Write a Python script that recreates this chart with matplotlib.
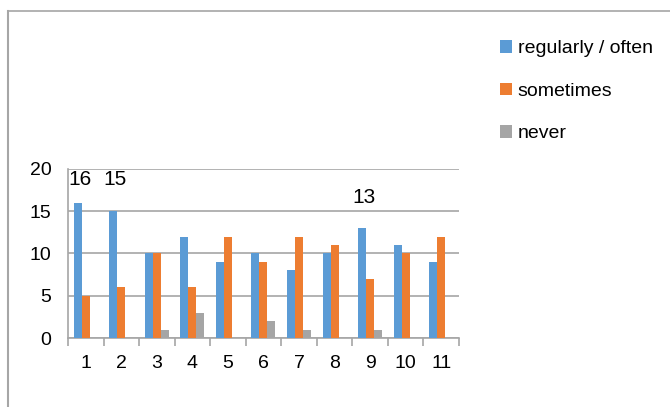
import numpy as np
import matplotlib.pyplot as plt
from matplotlib.lines import Line2D

plt.rcParams['font.family'] = ['Liberation Sans Narrow', 'Liberation Sans', 'DejaVu Sans']

categories = ["1", "2", "3", "4", "5", "6", "7", "8", "9", "10", "11"]
regular = [16, 15, 10, 12, 9, 10, 8, 10, 13, 11, 9]
sometimes = [5, 6, 10, 6, 12, 9, 12, 11, 7, 10, 12]
never = [0, 0, 1, 3, 0, 2, 1, 0, 1, 0, 0]
series_names = ["regularly / often", "sometimes", "never"]
colors = ["#5B9BD5", "#ED7D31", "#A5A5A5"]

# labels shown in the original, (category index, value, label y)
callouts = [(0, 16, 18.8), (1, 15, 18.8), (8, 13, 16.6)]

fig = plt.figure(figsize=(6.7, 4.07), dpi=100)
ax = fig.add_axes([0.1015, 0.1695, 0.5835, 0.4153])

x = np.arange(len(categories))
w = 0.225
for i, (vals, name, c) in enumerate(zip([regular, sometimes, never], series_names, colors)):
    ax.bar(x + (i - 1) * w, vals, width=w, color=c, label=name, zorder=3)

for idx, val, ly in callouts:
    ax.text(x[idx] - w + 0.05, ly, str(val), ha="center", va="center", fontsize=15)

ax.set_xlim(-0.5, len(categories) - 0.5)
ax.set_ylim(0, 20)
ax.set_yticks([0, 5, 10, 15, 20])
ax.yaxis.grid(True, color="#a6a6a6", linewidth=1.2, zorder=0)
ax.tick_params(axis="y", length=0, labelsize=14, pad=12)
ax.set_xticks(x)
ax.set_xticklabels(categories)
ax.tick_params(axis="x", which="major", length=0, labelsize=14, pad=12)
ax.set_xticks(np.arange(len(categories) + 1) - 0.5, minor=True)
ax.tick_params(axis="x", which="minor", length=6, width=1.2, color="#a6a6a6", direction="out")
for s in ["top", "right"]:
    ax.spines[s].set_visible(False)
for s in ["left", "bottom"]:
    ax.spines[s].set_color("#a6a6a6")
    ax.spines[s].set_linewidth(1.2)

fig.legend(loc="upper left", bbox_to_anchor=(0.72, 0.944), frameon=False,
           fontsize=14, handlelength=0.62, handleheight=0.62, handletextpad=0.3,
           labelspacing=1.3)

# outer border (only top and left visible in the original)
fig.add_artist(Line2D([8 / 670, 1.0], [1 - 11 / 407, 1 - 11 / 407],
                      transform=fig.transFigure, color="#a6a6a6", linewidth=1.2))
fig.add_artist(Line2D([8 / 670, 8 / 670], [0, 1 - 11 / 407],
                      transform=fig.transFigure, color="#a6a6a6", linewidth=1.5))

fig.savefig("out.png", dpi=100)
